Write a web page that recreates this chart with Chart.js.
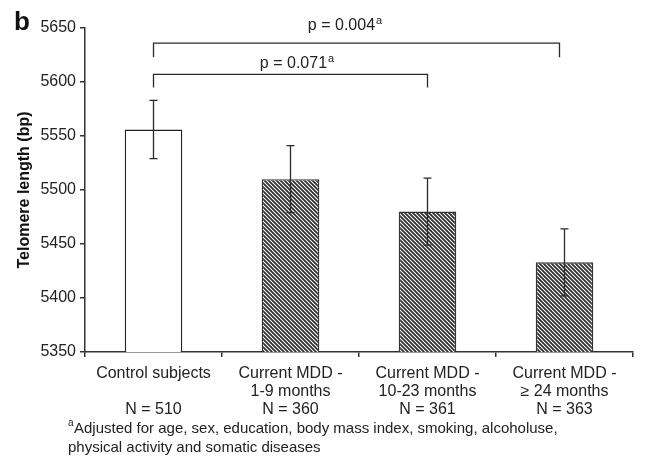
<!DOCTYPE html>
<html><head><meta charset="utf-8">
<script src="https://cdn.jsdelivr.net/npm/chart.js@4/dist/chart.umd.min.js"></script>
<style>html,body{margin:0;padding:0;background:#fff}#wrap{width:646px;height:465px;position:relative}</style>
</head><body><div id="wrap"><canvas id="c" width="646" height="465"></canvas></div>
<script>
const categories = [
  ["Control subjects", "", "N = 510"],
  ["Current MDD -", "1-9 months", "N = 360"],
  ["Current MDD -", "10-23 months", "N = 361"],
  ["Current MDD -", "\u2265 24 months", "N = 363"]
];
const telomereLength = [5556, 5510, 5480, 5433];
const errorHalf = [27, 31, 31, 31];
const yTicks = [5350, 5400, 5450, 5500, 5550, 5600, 5650];
const brackets = [
  {from: 0, to: 2, level: 5607, leg: 5595, label: "p = 0.071", sup: "a", dx: 6, gap: 6},
  {from: 0, to: 3, level: 5636, leg: 5623, label: "p = 0.004", sup: "a", dx: -12, gap: 13}
];
const footnote = ["Adjusted for age, sex, education, body mass index, smoking, alcoholuse,", "physical activity and somatic diseases"];
const FONT = "'Liberation Sans', Arial, sans-serif";

function hatch() {
  const s = 4, c = document.createElement('canvas');
  c.width = s; c.height = s;
  const g = c.getContext('2d');
  g.fillStyle = '#ffffff'; g.fillRect(0,0,s,s);
  g.strokeStyle = '#2a2a2a'; g.lineWidth = 1.7;
  g.beginPath();
  g.moveTo(-1,-1); g.lineTo(s+1,s+1);
  g.moveTo(-1,s-1); g.lineTo(1,s+1);
  g.moveTo(s-1,-1); g.lineTo(s+1,1);
  g.stroke();
  return g.createPattern(c,'repeat');
}
const pat = hatch();

const overlay = {
  id: 'overlay',
  afterDatasetsDraw(chart) {
    const ctx = chart.ctx, y = chart.scales.y;
    const meta = chart.getDatasetMeta(0);
    ctx.save();
    ctx.strokeStyle = '#2a2a2a'; ctx.lineWidth = 1.3;
    telomereLength.forEach((v,i) => {
      const px = meta.data[i].x;
      const t = y.getPixelForValue(v + errorHalf[i]), b = y.getPixelForValue(v - errorHalf[i]);
      ctx.beginPath();
      ctx.moveTo(px, t); ctx.lineTo(px, b);
      ctx.moveTo(px-4, t); ctx.lineTo(px+4, t);
      ctx.moveTo(px-4, b); ctx.lineTo(px+4, b);
      ctx.stroke();
    });
    brackets.forEach(br => {
      const x1 = meta.data[br.from].x, x2 = meta.data[br.to].x - (br.to === 3 ? 5 : 0);
      const yl = y.getPixelForValue(br.level), yg = y.getPixelForValue(br.leg);
      ctx.strokeStyle = '#2a2a2a';
      ctx.beginPath();
      ctx.moveTo(x1, yg); ctx.lineTo(x1, yl); ctx.lineTo(x2, yl); ctx.lineTo(x2, yg);
      ctx.stroke();
      ctx.fillStyle = '#222';
      ctx.font = '16px ' + FONT;
      const w = ctx.measureText(br.label).width;
      ctx.font = '11px ' + FONT;
      const ws = ctx.measureText(br.sup).width;
      const cx = (x1 + x2) / 2 + br.dx, sx = cx - (w + ws) / 2;
      ctx.textBaseline = 'alphabetic'; ctx.textAlign = 'left';
      ctx.font = '16px ' + FONT;
      ctx.fillText(br.label, sx, yl - br.gap);
      ctx.font = '11px ' + FONT;
      ctx.fillText(br.sup, sx + w + 1, yl - br.gap - 6);
    });
    // panel letter
    ctx.font = 'bold 26px ' + FONT;
    ctx.fillStyle = '#111';
    ctx.fillText('b', 14, 30);
    // footnote
    ctx.fillStyle = '#222';
    ctx.font = '10px ' + FONT;
    ctx.fillText('a', 68, 426);
    ctx.font = '15px ' + FONT;
    ctx.fillText(footnote[0], 74, 433);
    ctx.fillText(footnote[1], 68, 452);
    ctx.restore();
  }
};

new Chart(document.getElementById('c'), {
  type: 'bar',
  data: {
    labels: categories,
    datasets: [{
      data: telomereLength,
      backgroundColor: ['#ffffff', pat, pat, pat],
      borderColor: ['#222', '#333', '#333', '#333'],
      borderWidth: 1.4,
      barPercentage: 0.42,
      categoryPercentage: 1.0
    }]
  },
  options: {
    responsive: false,
    animation: false,
    devicePixelRatio: 1,
    layout: {padding: {top: 28, right: 13, left: 0, bottom: 0}},
    plugins: {legend: {display: false}, tooltip: {enabled: false}},
    scales: {
      y: {
        min: 5350, max: 5650,
        afterBuildTicks: s => { s.ticks = yTicks.map(v => ({value: v})); },
        afterFit: s => { s.width = 85; },
        border: {color: '#333', width: 1.5},
        grid: {drawOnChartArea: false, drawTicks: true, tickLength: 5, color: '#333', lineWidth: 1.5},
        ticks: {color: '#222', font: {family: FONT, size: 16}, padding: 4, callback: v => String(v)},
        title: {display: true, text: 'Telomere length (bp)', color: '#111', font: {family: FONT, size: 16, weight: 'bold'}, padding: {top: 15, bottom: 6}}
      },
      x: {
        afterFit: s => { s.height = 113; },
        border: {color: '#333', width: 1.5},
        grid: {drawOnChartArea: false, drawTicks: true, tickLength: 5, color: '#333', lineWidth: 1.5, offset: true},
        ticks: {color: '#222', font: {family: FONT, size: 16, lineHeight: 1.15}, padding: 7, maxRotation: 0, autoSkip: false}
      }
    }
  },
  plugins: [overlay]
});
</script></body></html>
